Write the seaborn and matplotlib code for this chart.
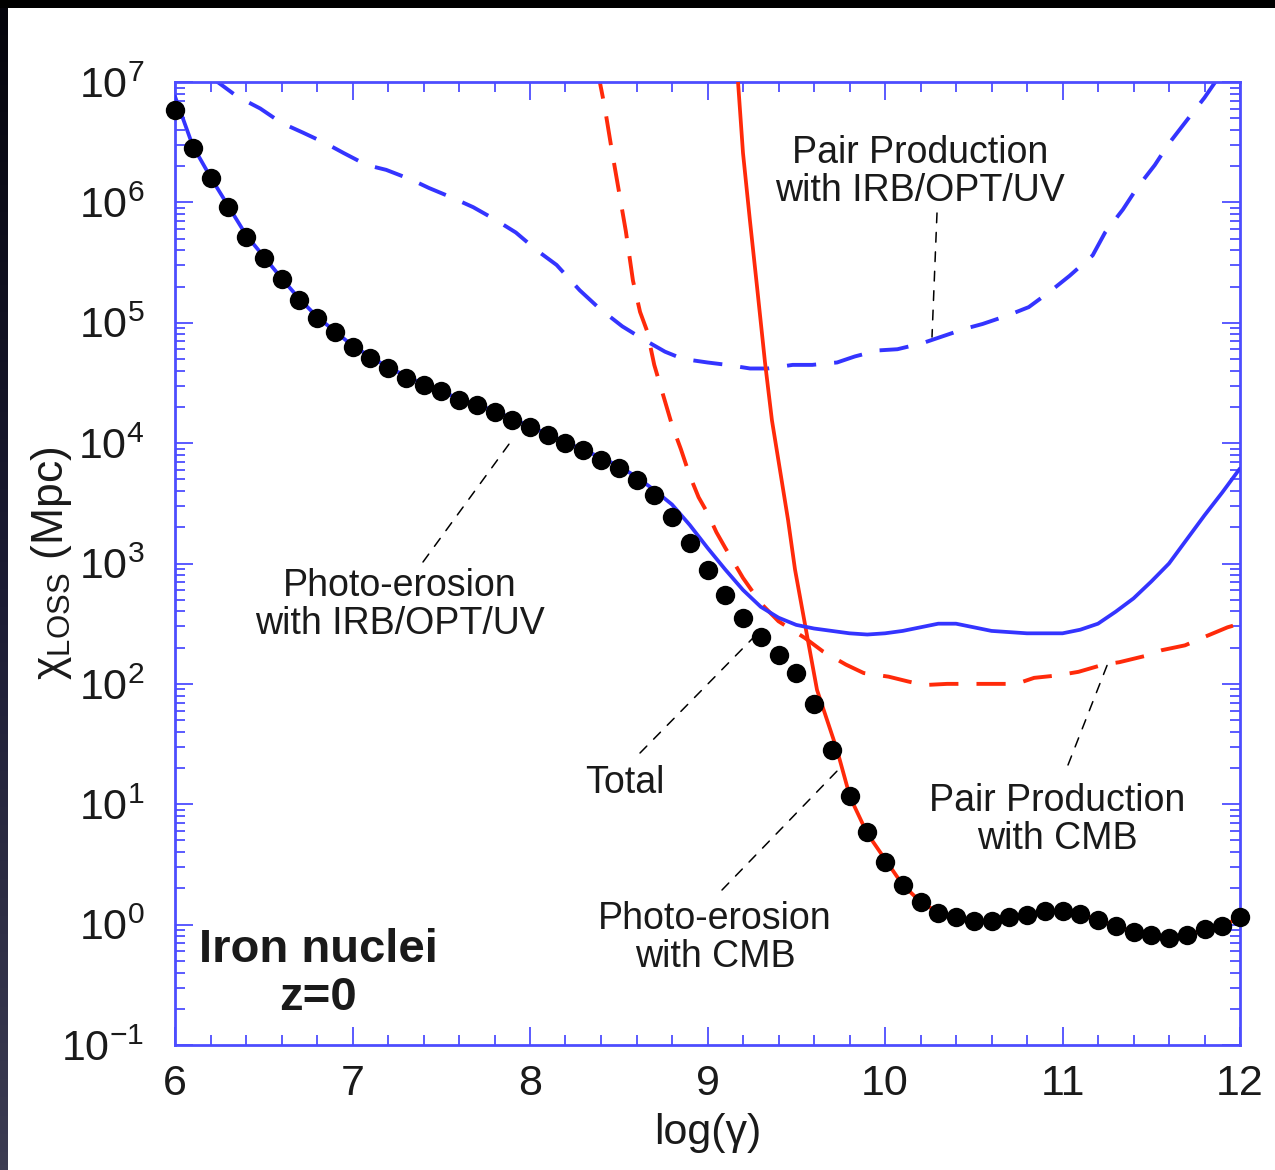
import numpy as np
import matplotlib
matplotlib.use("Agg")
import matplotlib.pyplot as plt
import seaborn as sns
from matplotlib.patches import Rectangle
from matplotlib.colors import LinearSegmentedColormap
from matplotlib.ticker import FixedLocator, FixedFormatter, MultipleLocator, NullFormatter

# ---------------- data (log10 of chi_loss in Mpc) ----------------
total_lg = [6.0, 6.1, 6.2, 6.3, 6.4, 6.5, 6.6, 6.7, 6.8, 6.9,
            7.0, 7.1, 7.2, 7.3, 7.4, 7.5, 7.6, 7.7, 7.8, 7.9,
            8.0, 8.1, 8.2, 8.3, 8.4, 8.5, 8.6, 8.7, 8.8, 8.9,
            9.0, 9.1, 9.2, 9.3, 9.4, 9.5, 9.6, 9.7, 9.8, 9.9,
            10.0, 10.1, 10.2, 10.3, 10.4, 10.5, 10.6, 10.7, 10.8, 10.9,
            11.0, 11.1, 11.2, 11.3, 11.4, 11.5, 11.6, 11.7, 11.8, 11.9, 12.0]
total_logchi = [6.77, 6.45, 6.20, 5.96, 5.71, 5.54, 5.36, 5.19, 5.04, 4.92,
                4.80, 4.71, 4.62, 4.54, 4.48, 4.43, 4.36, 4.32, 4.26, 4.19,
                4.13, 4.07, 4.00, 3.94, 3.86, 3.79, 3.69, 3.57, 3.39, 3.17,
                2.95, 2.74, 2.55, 2.39, 2.24, 2.09, 1.83, 1.45, 1.07, 0.77,
                0.52, 0.33, 0.19, 0.10, 0.06, 0.03, 0.03, 0.06, 0.08, 0.11,
                0.11, 0.09, 0.04, -0.01, -0.06, -0.09, -0.11, -0.09, -0.04, -0.01, 0.06]

pe_irb_lg = [6.0, 6.1, 6.2, 6.3, 6.4, 6.5, 6.6, 6.7, 6.8, 6.9, 7.0, 7.2, 7.4, 7.6, 7.8,
             8.0, 8.2, 8.4, 8.5, 8.6, 8.7, 8.8, 8.9, 9.0, 9.1, 9.2, 9.3, 9.4, 9.5,
             9.6, 9.7, 9.8, 9.9, 10.0, 10.1, 10.2, 10.3, 10.4, 10.5, 10.6, 10.8,
             11.0, 11.1, 11.2, 11.3, 11.4, 11.5, 11.6, 11.7, 11.8, 11.9, 12.0]
pe_irb_logchi = [6.88, 6.47, 6.21, 5.97, 5.73, 5.55, 5.37, 5.20, 5.05, 4.93, 4.81, 4.63, 4.49, 4.37, 4.27,
                 4.14, 4.01, 3.88, 3.81, 3.72, 3.61, 3.49, 3.32, 3.13, 2.95, 2.78, 2.64, 2.55, 2.49,
                 2.46, 2.44, 2.42, 2.41, 2.42, 2.44, 2.47, 2.50, 2.50, 2.47, 2.44, 2.42,
                 2.42, 2.45, 2.50, 2.60, 2.71, 2.85, 3.00, 3.20, 3.40, 3.59, 3.79]

pp_irb_lg = [6.20, 6.24, 6.35, 6.48, 6.60, 6.72, 6.85, 6.95, 7.08, 7.19, 7.33, 7.43, 7.56,
             7.68, 7.80, 7.92, 8.04, 8.15, 8.28, 8.39, 8.52, 8.63, 8.76, 8.86, 9.00,
             9.11, 9.24, 9.34, 9.48, 9.59, 9.73, 9.83, 9.96, 10.07, 10.21, 10.31, 10.45,
             10.55, 10.69, 10.81, 10.93, 11.04, 11.17, 11.24, 11.34, 11.42, 11.52, 11.60,
             11.71, 11.80, 11.87, 11.90]
pp_irb_logchi = [7.05, 7.00, 6.88, 6.78, 6.66, 6.58, 6.49, 6.41, 6.31, 6.27, 6.19, 6.12, 6.04,
                 5.96, 5.86, 5.75, 5.60, 5.48, 5.27, 5.12, 4.97, 4.87, 4.76, 4.70, 4.67,
                 4.65, 4.62, 4.62, 4.65, 4.65, 4.67, 4.72, 4.77, 4.78, 4.83, 4.88, 4.95,
                 4.99, 5.06, 5.13, 5.26, 5.39, 5.56, 5.75, 5.94, 6.12, 6.31, 6.49,
                 6.70, 6.87, 7.02, 7.08]

pe_cmb_lg = [9.15, 9.172, 9.200, 9.239, 9.279, 9.324, 9.363, 9.408, 9.454, 9.493,
             9.561, 9.617, 9.730, 9.803, 9.899, 9.983, 10.1, 10.2, 10.3, 10.4, 10.5,
             10.6, 10.7, 10.8, 10.9, 11.0, 11.1, 11.2, 11.3, 11.4, 11.5, 11.6, 11.7,
             11.8, 11.9, 12.0]
pe_cmb_logchi = [7.25, 7.00, 6.41, 5.85, 5.30, 4.67, 4.19, 3.78, 3.36, 2.95,
                 2.40, 1.95, 1.45, 1.06, 0.76, 0.58, 0.33, 0.19, 0.10, 0.06, 0.03,
                 0.03, 0.06, 0.08, 0.11, 0.11, 0.09, 0.04, -0.01, -0.06, -0.09, -0.11, -0.09,
                 -0.04, -0.01, 0.06]

pp_cmb_lg = [8.38, 8.42, 8.46, 8.50, 8.54, 8.58, 8.62, 8.66, 8.70, 8.75, 8.80, 8.85,
             8.90, 8.95, 9.00, 9.05, 9.10, 9.20, 9.30, 9.40, 9.55, 9.65, 9.78, 9.88,
             10.02, 10.13, 10.22, 10.35, 10.5, 10.6, 10.74, 10.84, 10.97, 11.09, 11.23,
             11.32, 11.46, 11.56, 11.69, 11.80, 11.93, 12.0]
pp_cmb_logchi = [7.10, 6.80, 6.44, 6.10, 5.76, 5.35, 5.09, 4.93, 4.65, 4.40, 4.15, 3.95,
                 3.73, 3.55, 3.42, 3.26, 3.13, 2.88, 2.67, 2.52, 2.38, 2.27, 2.16, 2.09,
                 2.06, 2.02, 1.99, 2.00, 2.00, 2.00, 2.00, 2.05, 2.07, 2.10, 2.16,
                 2.18, 2.23, 2.28, 2.32, 2.39, 2.47, 2.50]

x_ticks = [6, 7, 8, 9, 10, 11, 12]
y_exps = [-1, 0, 1, 2, 3, 4, 5, 6, 7]
y_tick_labels = [r"$\mathregular{10^{%d}}$" % e for e in y_exps]

BLUE = "#3434ff"
RED = "#ff2a0a"
SPINE = "#4d4dff"
TXT = "#1a1a1a"

# ---------------- style ----------------
sns.set_style("ticks")
plt.rcParams["font.family"] = ["Liberation Sans", "DejaVu Sans"]
plt.rcParams["mathtext.fontset"] = "custom"
plt.rcParams["mathtext.rm"] = "Liberation Sans"
plt.rcParams["mathtext.it"] = "Liberation Sans:italic"
plt.rcParams["mathtext.bf"] = "Liberation Sans:bold"
plt.rcParams["mathtext.default"] = "regular"
plt.rcParams["lines.scale_dashes"] = False

W, H = 1275, 1170
fig = plt.figure(figsize=(W / 100, H / 100), dpi=100)
fig.patch.set_facecolor("black")
fig.add_artist(Rectangle((8 / W, 0), 1 - 8 / W, 1 - 8 / H, transform=fig.transFigure,
                         facecolor="white", edgecolor="none", zorder=0))
lax = fig.add_axes([0, 0, 8 / W, 1 - 8 / H])
cm = LinearSegmentedColormap.from_list("edge", ["#05050c", "#1c1c34", "#3c3c52"])
lax.imshow(np.linspace(0, 1, 256).reshape(-1, 1), aspect="auto", cmap=cm)
lax.axis("off")

L, R, T, B = 175, 1240, 82, 1045
ax = fig.add_axes([L / W, 1 - B / H, (R - L) / W, (B - T) / H])
ax.set_facecolor("white")

def p10(v):
    return np.power(10.0, np.array(v))

DASH = (0, (21, 13))
sns.lineplot(x=pp_irb_lg, y=p10(pp_irb_logchi), ax=ax, color=BLUE, lw=2.8,
             linestyle=DASH, estimator=None, sort=False, zorder=2)
sns.lineplot(x=pp_cmb_lg, y=p10(pp_cmb_logchi), ax=ax, color=RED, lw=2.8,
             linestyle=DASH, estimator=None, sort=False, zorder=2)
sns.lineplot(x=pe_cmb_lg, y=p10(pe_cmb_logchi), ax=ax, color=RED, lw=2.7,
             estimator=None, sort=False, zorder=3)
sns.lineplot(x=pe_irb_lg, y=p10(pe_irb_logchi), ax=ax, color=BLUE, lw=2.7,
             estimator=None, sort=False, zorder=3)
sns.scatterplot(x=total_lg, y=p10(total_logchi), ax=ax, color="black", s=195,
                edgecolor="black", linewidth=0, zorder=5, clip_on=False)

ax.set_yscale("log")
ax.set_xlim(6, 12)
ax.set_ylim(1e-1, 1e7)

ax.xaxis.set_major_locator(FixedLocator(x_ticks))
ax.xaxis.set_minor_locator(MultipleLocator(0.2))
ax.set_xticklabels([str(t) for t in x_ticks])
ax.yaxis.set_major_locator(FixedLocator([10.0 ** e for e in y_exps]))
ax.yaxis.set_major_formatter(FixedFormatter(y_tick_labels))
minor_y = [m * 10.0 ** e for e in y_exps[:-1] for m in range(2, 10)]
ax.yaxis.set_minor_locator(FixedLocator(minor_y))
ax.yaxis.set_minor_formatter(NullFormatter())

ax.tick_params(which="both", direction="in", top=True, right=True,
               color=SPINE, width=1.3, labelcolor=TXT)
ax.tick_params(which="major", length=13)
ax.tick_params(which="minor", length=7)
ax.tick_params(axis="x", which="major", labelsize=31, pad=14)
ax.tick_params(axis="y", which="major", labelsize=31, pad=22)
for s in ax.spines.values():
    s.set_color(SPINE)
    s.set_linewidth(2.0)

ax.set_xlabel("log(γ)", fontsize=31, color=TXT, labelpad=6)
ax.set_ylabel(r"$\chi_{LOSS}$ (Mpc)", fontsize=32, color=TXT)
ax.yaxis.set_label_coords(-0.095, 0.5)

def fx(px):
    return (px - L) / (R - L)

def fy(py):
    return (B - py) / (B - T)

texts = [
    ("Pair Production\nwith IRB/OPT/UV", 920, 172, (937, 213), (932, 337)),
    ("Photo-erosion\nwith IRB/OPT/UV", 400, 605, (423, 562), (512, 440)),
    ("Total", 625, 783, (640, 753), (753, 638)),
    ("Photo-erosion\nwith CMB", 715, 938, (722, 890), (840, 768)),
    ("Pair Production\nwith CMB", 1057, 820, (1068, 765), (1108, 663)),
]
for s, tx, ty, a, b in texts:
    ax.text(fx(tx), fy(ty), s, transform=ax.transAxes, ha="center", va="center",
            fontsize=27, linespacing=1.05, color=TXT, zorder=6)
    ax.annotate("", xy=(fx(b[0]), fy(b[1])), xytext=(fx(a[0]), fy(a[1])),
                xycoords="axes fraction", textcoords="axes fraction",
                arrowprops=dict(arrowstyle="-", color="black", lw=1.1,
                                linestyle=(0, (7, 7)), shrinkA=0, shrinkB=0))

ax.text(fx(318), fy(974), "Iron nuclei\nz=0", transform=ax.transAxes, ha="center",
        va="center", fontsize=34, fontweight="bold", linespacing=1.1, color=TXT, zorder=6)

fig.savefig("out.png", dpi=100, facecolor=fig.get_facecolor())
